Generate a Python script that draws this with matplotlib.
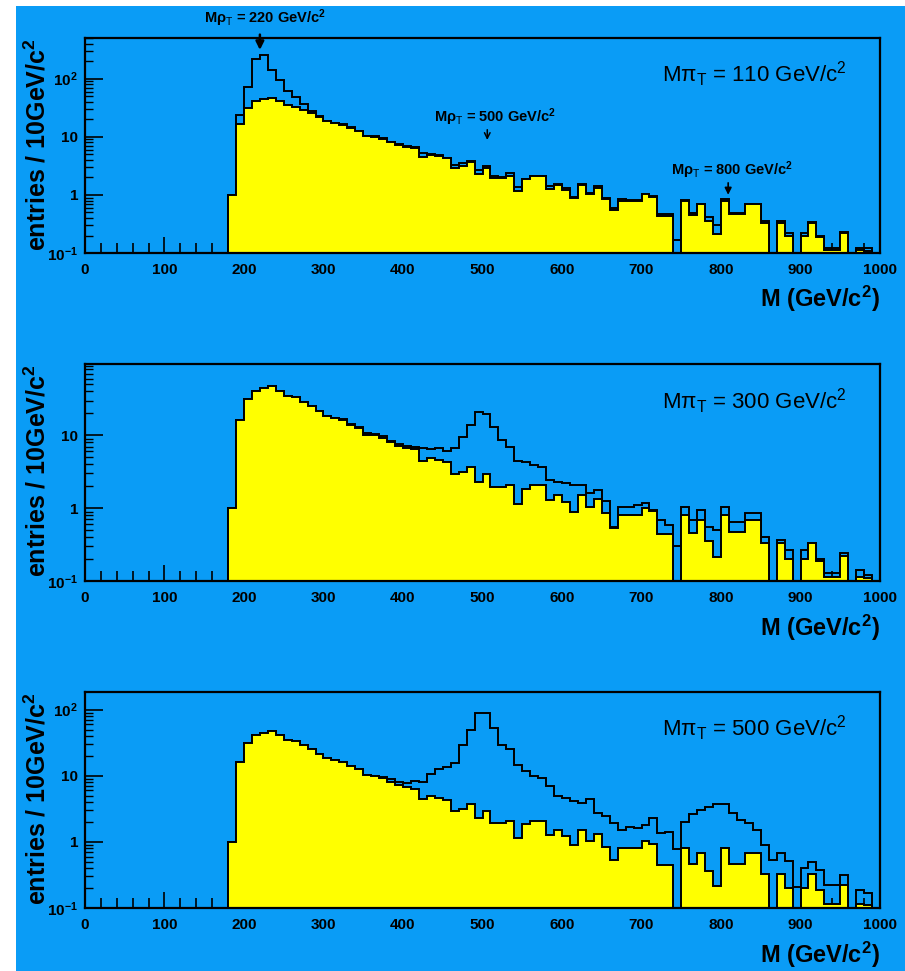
import numpy as np
import matplotlib
matplotlib.use("Agg")
import matplotlib.pyplot as plt
from matplotlib.patches import Rectangle
from matplotlib.ticker import FixedLocator, FixedFormatter, MultipleLocator

plt.rcParams['font.family'] = ['Liberation Sans', 'DejaVu Sans']
plt.rcParams['mathtext.fontset'] = 'custom'
plt.rcParams['mathtext.rm'] = 'Liberation Sans'
plt.rcParams['mathtext.it'] = 'Liberation Sans:italic'
plt.rcParams['mathtext.bf'] = 'Liberation Sans:bold'

# bin edges: 10 GeV bins from 180 to 1000 GeV/c^2
mass_edges = np.arange(180, 1001, 10)

# background (yellow) - same in all three panels
background = [
    1.0, 16.4, 31, 41, 44, 47, 41, 35, 33, 29,
    25.5, 21.5, 18.5, 17, 16, 14, 12.5, 10.2, 10.0, 9.3,
    8.0, 7.2, 6.7, 6.4, 4.5, 4.9, 4.6, 4.3, 2.9, 3.1,
    3.7, 2.3, 2.9, 1.95, 1.95, 2.1, 1.15, 1.85, 2.1, 2.1,
    1.28, 1.5, 1.22, 0.89, 1.5, 1.04, 1.33, 0.85, 0.54, 0.8,
    0.8, 0.8, 1.02, 0.92, 0.44, 0.44, 0, 0.8, 0.46, 0.69,
    0.36, 0.215, 0.8, 0.47, 0.47, 0.69, 0.69, 0.33, 0, 0.33,
    0.2, 0, 0.2, 0.33, 0.19, 0.115, 0.115, 0.22, 0, 0.115,
    0.11, 0,
]

# signal + background (outline) for M_pi = 110, 300, 500 GeV/c^2
total_110 = [
    1.0, 24, 72, 218, 260, 139, 95, 62, 48, 37,
    28, 22.5, 19, 17.5, 16.3, 14.5, 12.8, 10.5, 10.2, 9.5,
    8.2, 7.4, 6.9, 6.6, 5.3, 5.0, 4.8, 4.4, 3.3, 3.6,
    3.9, 2.7, 3.1, 2.1, 2.05, 2.35, 1.35, 1.9, 2.15, 2.15,
    1.4, 1.55, 1.3, 0.93, 1.55, 1.1, 1.4, 0.9, 0.6, 0.85,
    0.82, 0.82, 1.05, 0.95, 0.47, 0.47, 0.17, 0.82, 0.48, 0.7,
    0.42, 0.3, 0.85, 0.48, 0.48, 0.7, 0.7, 0.36, 0, 0.35,
    0.22, 0, 0.22, 0.34, 0.2, 0.12, 0.12, 0.23, 0, 0.12,
    0.12, 0,
]
total_300 = [
    1.0, 16.4, 31, 41, 44, 47, 41, 35, 33, 29,
    25.5, 21.5, 18.5, 17, 16.8, 14.5, 12.8, 10.7, 10.5, 9.8,
    8.4, 7.6, 7.1, 6.9, 6.6, 6.4, 6.7, 6.1, 6.6, 9.5,
    13.7, 20.8, 19.8, 13.0, 8.5, 6.9, 4.5, 4.3, 3.9, 3.7,
    2.4, 2.3, 2.2, 2.07, 2.1, 1.6, 1.8, 1.26, 0.55, 1.04,
    1.04, 1.1, 1.16, 0.95, 0.69, 0.58, 0.3, 1.04, 0.69, 0.94,
    0.55, 0.5, 1.04, 0.65, 0.65, 0.85, 0.85, 0.4, 0, 0.365,
    0.27, 0, 0.27, 0.33, 0.2, 0.13, 0.13, 0.24, 0, 0.14,
    0.12, 0,
]
total_500 = [
    1.0, 16.4, 31, 41, 44, 47, 41, 35, 33, 29,
    25.5, 21.5, 18.5, 17, 16, 14, 12.5, 10.2, 10.0, 9.5,
    9.0, 8.0, 7.8, 8.3, 8.0, 10.5, 12.5, 13.5, 15.6, 29.5,
    49.8, 89, 89, 52.7, 29.5, 25.3, 14.7, 11.6, 9.8, 9.2,
    6.9, 4.9, 4.6, 4.1, 3.9, 4.4, 2.7, 2.5, 1.96, 1.52,
    1.7, 1.6, 1.81, 2.3, 1.35, 1.42, 0.77, 2.0, 2.6, 3.05,
    3.4, 3.8, 3.8, 2.7, 2.15, 1.9, 1.52, 0.9, 0.53, 0.69,
    0.52, 0.205, 0.4, 0.49, 0.38, 0.22, 0.22, 0.31, 0, 0.19,
    0.17, 0,
]

panel_totals = [total_110, total_300, total_500]
panel_titles = [r'Mπ$_{\rm T}$ = 110 GeV/c$^{2}$',
                r'Mπ$_{\rm T}$ = 300 GeV/c$^{2}$',
                r'Mπ$_{\rm T}$ = 500 GeV/c$^{2}$']
panel_ymax = [500, 95, 185]

x_ticks = list(range(0, 1001, 100))
x_tick_labels = [str(t) for t in x_ticks]
y_ticks = [0.1, 1, 10, 100]
y_tick_labels = [r'$\mathbf{10^{-1}}$', '1', '10', r'$\mathbf{10^{2}}$']

blue = '#0a9cf6'
yellow = '#ffff00'
floor = 1e-3

fig = plt.figure(figsize=(9.05, 9.71), dpi=100, facecolor='white')
fig.add_artist(Rectangle((16 / 905, 0), 1 - 16 / 905, 965 / 971,
                         transform=fig.transFigure, facecolor=blue,
                         edgecolor='none', zorder=-10))

# axes positions (left, bottom, width, height) in figure fraction
positions = [(0.0939, 0.7394, 0.8785, 0.2214),
             (0.0939, 0.4016, 0.8785, 0.2235),
             (0.0939, 0.0649, 0.8785, 0.2225)]

axes = []
for pos, total, title, ymax in zip(positions, panel_totals, panel_titles, panel_ymax):
    ax = fig.add_axes(pos)
    ax.set_facecolor('none')
    ax.set_yscale('log')
    ax.set_xlim(0, 1000)
    ax.set_ylim(0.1, ymax)
    ax.set_axisbelow(True)

    tot = np.clip(np.array(total, dtype=float), floor, None)
    bkg = np.clip(np.array(background, dtype=float), floor, None)
    ax.stairs(tot, mass_edges, baseline=floor, color='black', lw=1.4, zorder=2)
    ax.stairs(bkg, mass_edges, baseline=floor, fill=True, facecolor=yellow,
              edgecolor='none', zorder=3)
    ax.stairs(bkg, mass_edges, baseline=floor, color='black', lw=1.4, zorder=4)

    for side in ['top', 'bottom', 'left', 'right']:
        ax.spines[side].set_linewidth(1.6)
        ax.spines[side].set_zorder(5)

    ax.xaxis.set_major_locator(FixedLocator(x_ticks))
    ax.xaxis.set_major_formatter(FixedFormatter(x_tick_labels))
    ax.xaxis.set_minor_locator(MultipleLocator(20))
    ax.yaxis.set_major_locator(FixedLocator(y_ticks))
    ax.yaxis.set_major_formatter(FixedFormatter(y_tick_labels))
    ax.yaxis.set_minor_locator(FixedLocator(
        [m * 10.0 ** e for e in range(-1, 3) for m in range(2, 10)]))
    ax.yaxis.set_minor_formatter(FixedFormatter([]))

    ax.tick_params(axis='x', which='major', direction='in', length=11.5,
                   width=1.2, pad=7, labelsize=11, top=False)
    ax.tick_params(axis='x', which='minor', direction='in', length=7,
                   width=1.2, top=False)
    ax.tick_params(axis='y', which='major', direction='in', length=13,
                   width=1.2, pad=5, labelsize=11, right=False)
    ax.tick_params(axis='y', which='minor', direction='in', length=6,
                   width=1.0, right=False)
    for lab in ax.get_xticklabels() + ax.get_yticklabels():
        lab.set_fontweight('bold')

    ax.text(0.958, 0.83, title, transform=ax.transAxes, ha='right',
            va='center', fontsize=16)
    ax.text(1.0, -0.215, r'M (GeV/c$^{\mathbf{2}}$)', transform=ax.transAxes,
            ha='right', va='center', fontsize=17, fontweight='bold')
    ax.text(-0.0604, 1.0, r'entries / 10GeV/c$^{\mathbf{2}}$',
            transform=ax.transAxes, ha='center', va='top', rotation=90,
            fontsize=18, fontweight='bold')
    axes.append(ax)

# rho_T markers in the top panel
ax = axes[0]
ax.annotate('', xy=(220, 280), xytext=(220, 640),
            arrowprops=dict(arrowstyle='-|>', lw=1.8, color='black',
                            mutation_scale=12),
            annotation_clip=False)
ax.text(226, 1100, r'Mρ$_{\rm T}$ = 220 GeV/c$^{\mathbf{2}}$', ha='center',
        va='center', fontsize=10.5, fontweight='bold', clip_on=False)

ax.annotate('', xy=(506, 7.9), xytext=(506, 14.8),
            arrowprops=dict(arrowstyle='->', lw=1.1, color='black',
                            mutation_scale=10))
ax.text(516, 22, r'Mρ$_{\rm T}$ = 500 GeV/c$^{\mathbf{2}}$', ha='center',
        va='center', fontsize=10.5, fontweight='bold')

ax.annotate('', xy=(809, 0.9), xytext=(809, 1.8),
            arrowprops=dict(arrowstyle='-|>', lw=1.2, color='black',
                            mutation_scale=10))
ax.text(814, 2.7, r'Mρ$_{\rm T}$ = 800 GeV/c$^{\mathbf{2}}$', ha='center',
        va='center', fontsize=10.5, fontweight='bold')

fig.savefig('out.png', dpi=100, facecolor=fig.get_facecolor())
